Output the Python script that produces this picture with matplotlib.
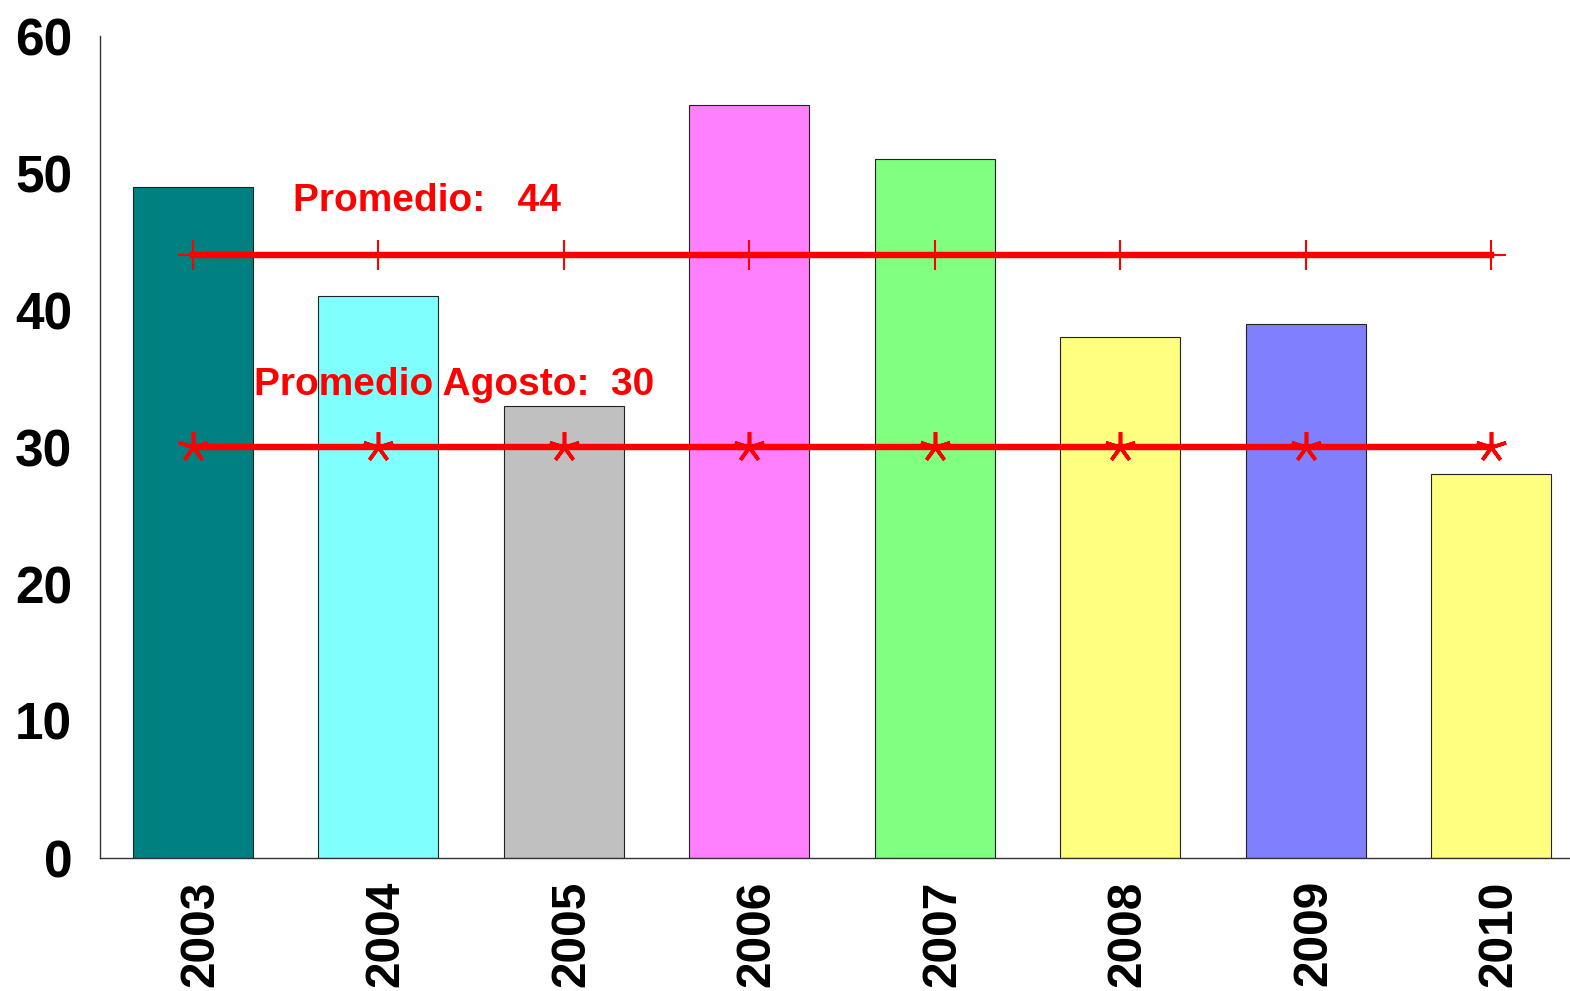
import matplotlib
matplotlib.use("Agg")
import matplotlib.pyplot as plt
import matplotlib.transforms as mtransforms
import numpy as np

plt.rcParams['font.family'] = ['Liberation Sans', 'DejaVu Sans']

# data
years = ['2003', '2004', '2005', '2006', '2007', '2008', '2009', '2010']
valores = [49, 41, 33, 55, 51, 38, 39, 28]
colores = ['#008080', '#80FFFF', '#C0C0C0', '#FF80FF', '#80FF80', '#FFFF80', '#8080FF', '#FFFF80']
promedio = [44] * 8
promedio_agosto = [30] * 8
yticks = [0, 10, 20, 30, 40, 50, 60]

fig = plt.figure(figsize=(15.70, 9.91), dpi=100)
ax = fig.add_axes([100 / 1570, 1 - 858 / 991, 1484 / 1570, 822 / 991])

x = np.arange(len(years))
ax.bar(x, valores, width=0.647, color=colores, edgecolor='#222222', linewidth=0.8, zorder=2)

ax.plot(x, promedio, color='red', lw=4.6, marker='+', ms=22, mew=1.5, zorder=3)
ax.plot(x, promedio_agosto, color='red', lw=4.6, marker=(5, 2, 0), ms=22, mew=2.6, zorder=3)

ax.text(0.54, 47.2, 'Promedio:   44', color='red', fontsize=28, fontweight='bold',
        ha='left', va='baseline')
ax.text(0.33, 33.8, 'Promedio Agosto:  30', color='red', fontsize=28, fontweight='bold',
        ha='left', va='baseline')

ax.set_xlim(-0.5, 7.5)
ax.set_ylim(0, 60)
ax.set_xticks(x)
ax.set_xticklabels(years, rotation=90, fontsize=34.5, fontweight='bold', va='top')
ax.set_yticks(yticks)
ax.set_yticklabels([str(t) for t in yticks], fontsize=37, fontweight='bold')
ax.tick_params(axis='both', length=0)
ax.tick_params(axis='y', pad=20)
ax.tick_params(axis='x', pad=16)

shift = mtransforms.ScaledTranslation(8 / 100, 0, fig.dpi_scale_trans)
for lab in ax.get_xticklabels():
    lab.set_transform(lab.get_transform() + shift)

for s in ['top', 'right']:
    ax.spines[s].set_visible(False)
for s in ['left', 'bottom']:
    ax.spines[s].set_color('#333333')
    ax.spines[s].set_linewidth(1.0)

fig.savefig('out.png', dpi=100)
